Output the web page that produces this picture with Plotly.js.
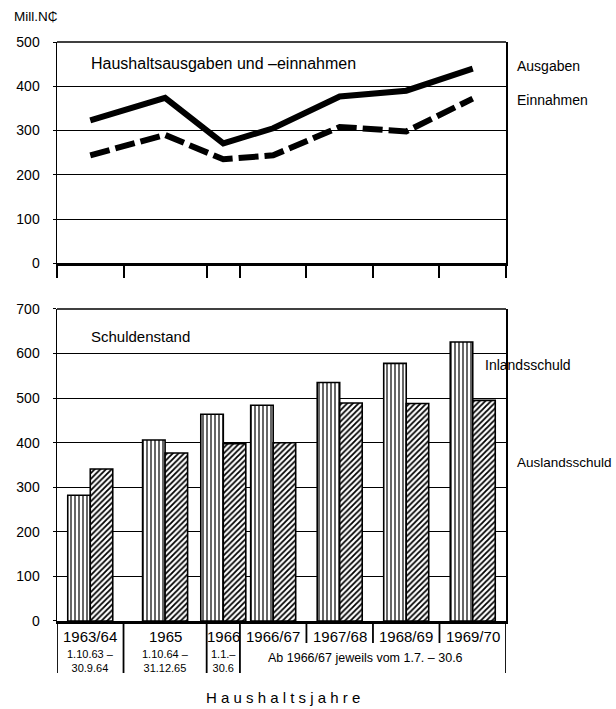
<!DOCTYPE html>
<html>
<head>
<meta charset="utf-8">
<script src="https://cdn.plot.ly/plotly-3.0.1.min.js"></script>
<style>html,body{margin:0;padding:0;background:#fff;}#chart{width:616px;height:709px;}</style>
</head>
<body>
<div id="chart"></div>
<script>
// ---- data ----
const periods = ['1963/64', '1965', '1966', '1966/67', '1967/68', '1968/69', '1969/70'];
const periodSub = ['1.10.63 –<br>30.9.64', '1.10.64 –<br>31.12.65', '1.1.–<br>30.6', '', '', '', ''];
// period boundaries in months since 1.10.1963
const periodStart = [0, 12, 27, 33, 45, 57, 69];
const periodEnd = [12, 27, 33, 45, 57, 69, 81];
const ausgaben = [323, 374, 271, 305, 377, 390, 440];
const einnahmen = [244, 290, 235, 244, 308, 298, 372];
const inlandsschuld = [282, 406, 464, 484, 535, 578, 626];
const auslandsschuld = [341, 377, 398, 400, 489, 488, 495];
const yTicksTop = [0, 100, 200, 300, 400, 500];
const yTicksBottom = [0, 100, 200, 300, 400, 500, 600, 700];

const mids = periodStart.map((s, i) => (s + periodEnd[i]) / 2);
const bounds = [0].concat(periodEnd);
const longBounds = [0, 12, 27, 33, 81];

const FONT = 'Liberation Sans, Arial, DejaVu Sans, sans-serif';
const BW = 4.06;

const traces = [
  {x: mids, y: ausgaben, type: 'scatter', mode: 'lines', xaxis: 'x', yaxis: 'y',
   line: {color: '#000', width: 6}, name: 'Ausgaben'},
  {x: mids, y: einnahmen, type: 'scatter', mode: 'lines', xaxis: 'x', yaxis: 'y',
   line: {color: '#000', width: 6, dash: '20px,6px'}, name: 'Einnahmen'},
  {x: mids, y: inlandsschuld, type: 'bar', xaxis: 'x2', yaxis: 'y2', width: BW, offset: -BW,
   marker: {color: '#fff', line: {color: '#000', width: 1.6},
            pattern: {shape: '|', fgcolor: '#000', bgcolor: '#fff', size: 4, solidity: 0.3}},
   name: 'Inlandsschuld'},
  {x: mids, y: auslandsschuld, type: 'bar', xaxis: 'x2', yaxis: 'y2', width: BW, offset: 0,
   marker: {color: '#fff', line: {color: '#000', width: 1.6},
            pattern: {shape: '/', fgcolor: '#000', bgcolor: '#fff', size: 4, solidity: 0.45}},
   name: 'Auslandsschuld'}
];

const shapes = [];
shapes.push({type: 'line', xref: 'x domain', yref: 'y domain', x0: 0, x1: 1, y0: 1, y1: 1, line: {color: '#000', width: 1.5}});
shapes.push({type: 'line', xref: 'x2 domain', yref: 'y2 domain', x0: 0, x1: 1, y0: 1, y1: 1, line: {color: '#000', width: 1.5}});
bounds.forEach(b => {
  const isLong = longBounds.indexOf(b) >= 0;
  shapes.push({type: 'line', xref: 'x2', yref: 'paper', x0: b, x1: b, y0: 0, y1: isLong ? -0.0898 : -0.038,
               line: {color: '#000', width: 1.8}});
});

const annotations = [];
periods.forEach((p, i) => {
  annotations.push({xref: 'x2', yref: 'paper', x: mids[i], y: -0.0276, text: p, showarrow: false,
    xanchor: 'center', yanchor: 'middle', font: {family: FONT, size: 15, color: '#000'}});
  if (periodSub[i]) {
    annotations.push({xref: 'x2', yref: 'paper', x: mids[i], y: -0.0695, text: periodSub[i], showarrow: false,
      xanchor: 'center', yanchor: 'middle', font: {family: FONT, size: 11, color: '#000'}});
  }
});
const lab = (text, x, y, size, xanchor) => ({xref: 'paper', yref: 'paper', x: x, y: y, text: text,
  showarrow: false, xanchor: xanchor || 'left', yanchor: 'middle', font: {family: FONT, size: size, color: '#000'}});
annotations.push(lab('Ab 1966/67 jeweils vom 1.7. – 30.6', 0.686, -0.0639, 12.5, 'center'));
annotations.push(lab('Mill.N₵', -0.1002, 1.0449, 13.5));
annotations.push(lab('Ausgaben', 1.02, 0.9585, 14));
annotations.push(lab('Einnahmen', 1.02, 0.8998, 14));
annotations.push(lab('Inlandsschuld', 0.9488, 0.4421, 14));
annotations.push(lab('Auslandsschuld', 1.021, 0.2729, 13.5));
annotations.push(lab('Haushaltsausgaben und –einnahmen', 0.0713, 0.9637, 16));
annotations.push(lab('Schuldenstand', 0.0713, 0.4922, 15));
annotations.push(lab('H a u s h a l t s j a h r e', 0.5033, -0.1313, 15, 'center'));

const yCommon = {showline: true, mirror: true, linecolor: '#000', linewidth: 1.5,
  showgrid: true, gridcolor: '#000', gridwidth: 1, zeroline: false,
  ticks: 'outside', ticklen: 3, tickcolor: '#000', ticklabelstandoff: 10,
  tickfont: {family: FONT, size: 14, color: '#000'}, fixedrange: true};

const layout = {
  width: 616, height: 709,
  margin: {l: 57, r: 110, t: 42, b: 88},
  paper_bgcolor: '#fff', plot_bgcolor: '#fff',
  showlegend: false,
  barmode: 'overlay',
  xaxis: {domain: [0, 1], range: [0, 81], anchor: 'y', showline: true, linecolor: '#000', linewidth: 3,
          showgrid: false, zeroline: false, tickmode: 'array', tickvals: bounds, ticks: 'outside',
          ticklen: 12, tickwidth: 2, tickcolor: '#000', showticklabels: false},
  yaxis: Object.assign({}, yCommon, {domain: [0.6178, 1], range: [0, 500], tickmode: 'array', tickvals: yTicksTop}),
  xaxis2: {domain: [0, 1], range: [0, 81], anchor: 'y2', showline: true, linecolor: '#000', linewidth: 3,
           showgrid: false, zeroline: false, ticks: '', showticklabels: false},
  yaxis2: Object.assign({}, yCommon, {domain: [0, 0.5389], range: [0, 700], tickmode: 'array', tickvals: yTicksBottom}),
  shapes: shapes,
  annotations: annotations
};

Plotly.newPlot('chart', traces, layout, {staticPlot: true, displayModeBar: false});
</script>
</body>
</html>
